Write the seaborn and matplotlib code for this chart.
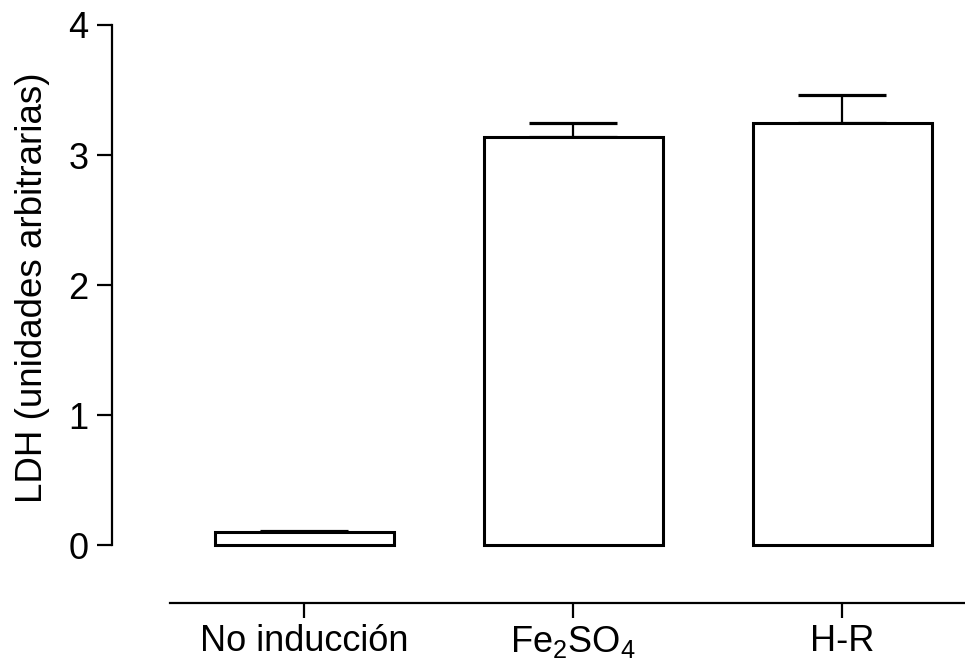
import matplotlib
matplotlib.use("Agg")
import matplotlib.pyplot as plt
import seaborn as sns
import numpy as np

categories = ["No inducción", "Fe$_{2}$SO$_{4}$", "H-R"]
values = [0.10, 3.14, 3.25]
errors = [0.01, 0.11, 0.21]
yticks = [0, 1, 2, 3, 4]

sns.set_style("ticks")
plt.rcParams['font.family'] = ['Liberation Sans', 'DejaVu Sans']
plt.rcParams['mathtext.fontset'] = 'custom'
plt.rcParams['mathtext.rm'] = 'Liberation Sans'
plt.rcParams['mathtext.it'] = 'Liberation Sans'
plt.rcParams['mathtext.default'] = 'regular'

fig = plt.figure(figsize=(9.65, 6.68), dpi=100)
ax = fig.add_axes([112/965, 1-603/668, (965-112)/965, (603-25)/668])

ax.errorbar(x=np.arange(len(values)), y=values, yerr=[np.zeros(len(errors)), errors],
            fmt='none', ecolor='black', elinewidth=1.6, capsize=32, capthick=2.3, zorder=1)
sns.barplot(x=list(range(len(values))), y=values, width=0.665, color='white',
            edgecolor='black', linewidth=2.2, ax=ax, zorder=2, native_scale=True)

ax.set_xlim(-0.714, 2.457)
ax.set_ylim(-0.446, 4.0)
ax.set_yticks(yticks)
ax.set_yticklabels([str(t) for t in yticks])
ax.set_xticks(range(len(categories)))
ax.set_xticklabels(categories)

for s in ['top', 'right']:
    ax.spines[s].set_visible(False)
for s in ['left', 'bottom']:
    ax.spines[s].set_color('black')
    ax.spines[s].set_linewidth(1.6)
ax.spines['left'].set_bounds(0, 4)
ax.spines['bottom'].set_bounds(-0.5, 2.5)

ax.tick_params(axis='both', which='major', length=11, width=1.6, color='black',
               labelsize=26, labelcolor='black', direction='out',
               left=True, bottom=True)
ax.tick_params(axis='y', pad=6)
ax.tick_params(axis='x', pad=4)
ax.set_ylabel("LDH (unidades arbitrarias)", fontsize=26.5, color='black')
ax.yaxis.set_label_coords(-0.073, 0.546)
ax.set_xlabel("")
ax.grid(False)

fig.savefig("out.png", dpi=100, facecolor='white')
